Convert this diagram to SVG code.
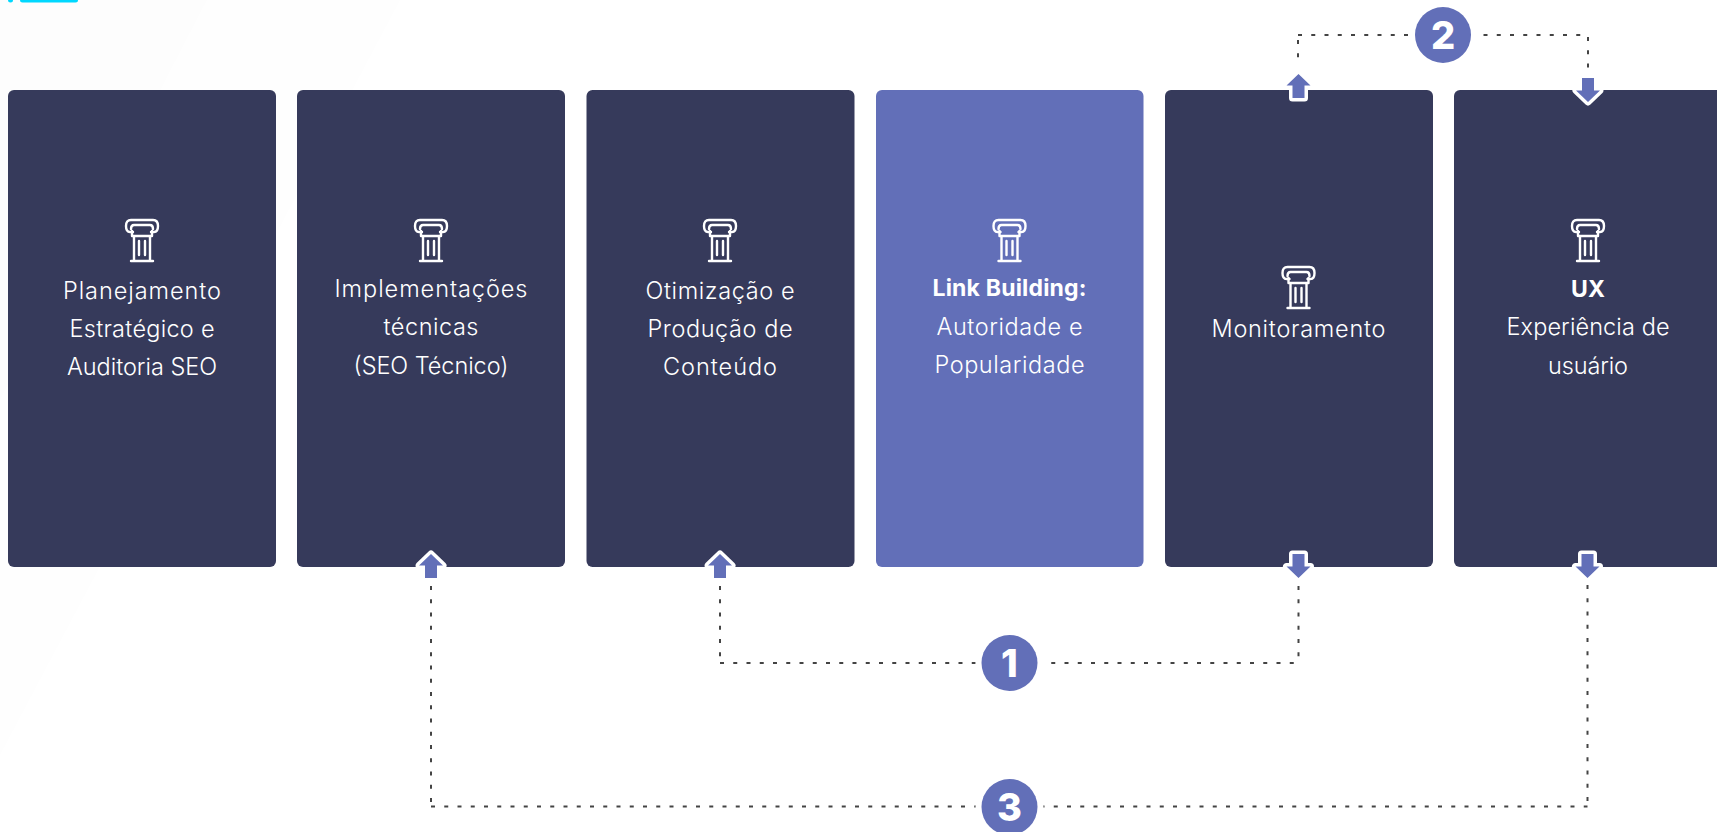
<svg xmlns="http://www.w3.org/2000/svg" width="1717" height="832" viewBox="0 0 1717 832">
<style>
.card{fill:#363a5b}
.accent{fill:#626fb8}
.t{font-family:"Inter","Open Sans","Liberation Sans",sans-serif;font-size:23.5px;fill:#fff;text-anchor:middle;font-weight:350}
.b{font-weight:700;font-size:23px}
.n{font-family:"Inter","Liberation Sans",sans-serif;font-size:38px;font-weight:800;fill:#fff;text-anchor:middle}
.dot{fill:none;stroke:#444;stroke-width:2;stroke-dasharray:4 9.250}
.arr{fill:#626fb8;stroke:#fff;stroke-width:7;stroke-linejoin:round;paint-order:stroke}
.ic{fill:none;stroke:#fff;stroke-width:2.400;stroke-linecap:round;stroke-linejoin:round}
</style>
<defs>
<g id="pillar" class="ic">
<path d="M-9 13H-12Q-16 13-16 7Q-16 1-11 1H11Q16 1 16 7Q16 13 12 13H9"/>
<path d="M-11 10Q-11 6-8 6H8Q11 6 11 10"/>
<path d="M-10 12V17H10V12M-8 17V41M8 17V41M-11 42H11"/>
<path d="M-3 22V36M3 22V36"/>
</g>
<path id="up" d="M0 0L12 11.500H6V24H-6V11.500H-12Z"/>
<path id="down" d="M0 0L-12-11.500H-6V-24H6V-11.500H12Z"/>
</defs>
<rect width="1717" height="832" fill="#fff"/>
<g id="background">
<polygon points="0,0 75,0 0,150" fill="#fdfdfd"/>
<polygon points="75,0 207,0 0,400 0,150" fill="#fdfdfd"/>
<polygon points="207,0 400,0 0,755 0,400" fill="#fefefe"/>
<rect x="8" y="-3" width="5" height="5.500" rx="2.500" fill="#00d8ff"/>
<rect x="20" y="-3" width="58" height="5.500" rx="2.500" fill="#00d8ff"/>
</g>
<g id="card-1"><rect class="card" x="8" y="90" width="268" height="477" rx="6"/><use href="#pillar" x="142" y="219"/>
<text class="t" x="142" y="299" textLength="158">Planejamento</text><text class="t" x="142" y="337" textLength="145">Estratégico e</text><text class="t" x="142" y="375" textLength="150">Auditoria SEO</text></g>
<g id="card-2"><rect class="card" x="297" y="90" width="268" height="477" rx="6"/><use href="#pillar" x="431" y="219"/>
<text class="t" x="431" y="297" textLength="193">Implementações</text><text class="t" x="431" y="335" textLength="95">técnicas</text><text class="t" x="431" y="374" textLength="155">(SEO Técnico)</text></g>
<g id="card-3"><rect class="card" x="586.500" y="90" width="268" height="477" rx="6"/><use href="#pillar" x="720" y="219"/>
<text class="t" x="720" y="299" textLength="149">Otimização e</text><text class="t" x="720" y="337" textLength="145">Produção de</text><text class="t" x="720" y="375" textLength="114">Conteúdo</text></g>
<g id="card-4"><rect class="accent" x="876" y="90" width="267.500" height="477" rx="6"/><use href="#pillar" x="1009.500" y="219"/>
<text class="t b" x="1009.500" y="296" textLength="154">Link Building:</text><text class="t" x="1009.500" y="335" textLength="146">Autoridade e</text><text class="t" x="1009.500" y="373" textLength="150">Popularidade</text></g>
<g id="card-5"><rect class="card" x="1165" y="90" width="268" height="477" rx="6"/><use href="#pillar" x="1298.500" y="266"/>
<text class="t" x="1298.500" y="337" textLength="174">Monitoramento</text></g>
<g id="card-6"><rect class="card" x="1454" y="90" width="268" height="477" rx="6"/><use href="#pillar" x="1588" y="219"/>
<text class="t b" x="1588" y="297">UX</text><text class="t" x="1588" y="335" textLength="163">Experiência de</text><text class="t" x="1588" y="374" textLength="80">usuário</text></g>
<g id="connectors">
<path class="dot" d="M720 586V660"/>
<path class="dot" d="M720 663H1298.500"/>
<path class="dot" d="M1298.500 586V660"/>
<path class="dot" d="M1298 40V60"/>
<path class="dot" d="M1298 35H1588"/>
<path class="dot" d="M1588 37V72"/>
<path class="dot" d="M431 802V586"/>
<path class="dot" d="M431 806.500H1587.500"/>
<path class="dot" d="M1587.500 585V805"/>
<use class="arr" href="#up" x="431" y="554"/>
<use class="arr" href="#up" x="720" y="554"/>
<use class="arr" href="#down" x="1298.500" y="578"/>
<use class="arr" href="#down" x="1587.500" y="578"/>
<use class="arr" href="#up" x="1298.500" y="74"/>
<use class="arr" href="#down" x="1588" y="102"/>
</g>
<g id="badge-1"><circle cx="1009.500" cy="663" r="34" fill="#fff"/><circle class="accent" cx="1009.500" cy="663" r="28"/><text class="n" x="1009.500" y="677">1</text></g>
<g id="badge-2"><circle cx="1443" cy="35" r="34" fill="#fff"/><circle class="accent" cx="1443" cy="35" r="28"/><text class="n" x="1443" y="49">2</text></g>
<g id="badge-3"><circle cx="1009.500" cy="807" r="34" fill="#fff"/><circle class="accent" cx="1009.500" cy="807" r="28"/><text class="n" x="1009.500" y="821">3</text></g>
</svg>
